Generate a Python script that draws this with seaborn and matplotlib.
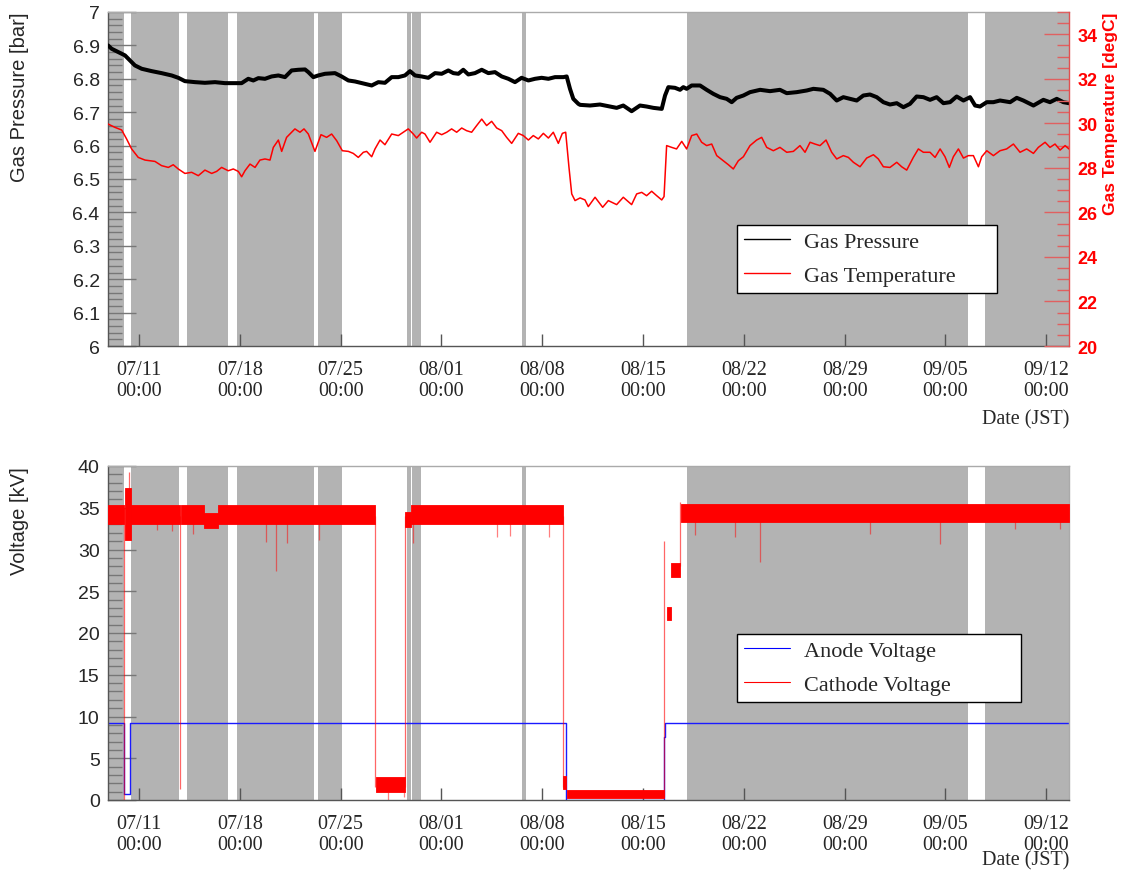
import numpy as np
import pandas as pd
import matplotlib
matplotlib.use("Agg")
import matplotlib.pyplot as plt
import matplotlib.ticker as mticker
from matplotlib.lines import Line2D
import seaborn as sns

# ------------------------------------------------------------------ data
ORIGIN = "2023-07-11 00:00"          # day 0 for all day offsets below
x_range_day = [-2.15, 64.58]
tick_dates = ["2023-07-11", "2023-07-18", "2023-07-25", "2023-08-01", "2023-08-08",
              "2023-08-15", "2023-08-22", "2023-08-29", "2023-09-05", "2023-09-12"]

# grey shaded periods (days since origin)
shade_start = [-2.15, -0.56, 3.33, 6.81, 12.43, 18.58, 18.96, 26.60, 38.05, 58.75]
shade_end = [-1.07, 2.78, 6.18, 12.16, 14.09, 18.89, 19.58, 26.88, 57.58, 64.58]

# gas pressure [bar]
pressure_day = [-2.15, -1.90, -1.44, -0.97, -0.63, -0.28, 0.19, 0.88, 1.57, 2.27,
                2.73, 3.19, 3.89, 4.58, 5.28, 5.97, 6.67, 7.13, 7.59, 7.94,
                8.29, 8.75, 9.21, 9.68, 10.14, 10.60, 11.06, 11.53, 11.76, 12.11,
                12.45, 12.92, 13.61, 14.07, 14.54, 15.00, 15.69, 16.16, 16.62, 17.08,
                17.55, 18.01, 18.47, 18.82, 19.17, 19.63, 20.09, 20.56, 21.02, 21.48,
                21.83, 22.18, 22.52, 22.87, 23.33, 23.80, 24.26, 24.72, 25.19, 25.65,
                26.11, 26.57, 27.04, 27.50, 27.96, 28.43, 28.89, 29.47, 29.70, 29.93,
                30.16, 30.51,
                30.63, 31.32, 32.01, 32.71, 33.17, 33.63, 34.21, 34.79, 35.25, 35.72,
                36.30, 36.53, 36.76, 37.22, 37.57, 37.80, 38.03, 38.38, 38.96, 39.42,
                39.88, 40.35, 40.81, 41.16, 41.50, 41.97, 42.43, 43.13, 43.82, 44.51,
                44.98, 45.67, 46.37, 46.83, 47.52, 47.99, 48.45, 48.91, 49.38, 49.84,
                50.30, 50.76, 51.23, 51.69, 52.15, 52.62, 53.08, 53.54, 54.00, 54.47,
                54.93, 55.39, 55.86, 56.32, 56.78, 57.25, 57.71, 58.06, 58.40, 58.87,
                59.33, 59.79, 60.49, 60.95, 61.41, 62.11, 62.80, 63.26, 63.73, 64.19,
                64.58]
pressure_bar = [6.900, 6.890, 6.880, 6.870, 6.855, 6.840, 6.830, 6.823, 6.817, 6.810,
                6.803, 6.793, 6.790, 6.788, 6.790, 6.787, 6.787, 6.787, 6.800, 6.795,
                6.802, 6.800, 6.807, 6.810, 6.805, 6.825, 6.827, 6.828, 6.820, 6.805,
                6.810, 6.815, 6.817, 6.807, 6.795, 6.792, 6.785, 6.780, 6.790, 6.788,
                6.805, 6.805, 6.810, 6.823, 6.810, 6.807, 6.803, 6.817, 6.815, 6.825,
                6.817, 6.815, 6.827, 6.813, 6.817, 6.827, 6.817, 6.820, 6.807, 6.800,
                6.790, 6.803, 6.795, 6.800, 6.803, 6.800, 6.805, 6.805, 6.807, 6.770,
                6.740, 6.725,
                6.722, 6.720, 6.723, 6.717, 6.713, 6.720, 6.703, 6.720, 6.717, 6.713,
                6.710, 6.750, 6.775, 6.773, 6.767, 6.775, 6.770, 6.780, 6.780, 6.767,
                6.755, 6.745, 6.740, 6.730, 6.743, 6.750, 6.760, 6.767, 6.763, 6.767,
                6.757, 6.760, 6.765, 6.770, 6.767, 6.755, 6.735, 6.745, 6.740, 6.735,
                6.750, 6.753, 6.745, 6.730, 6.723, 6.727, 6.715, 6.725, 6.747, 6.745,
                6.737, 6.745, 6.727, 6.730, 6.747, 6.735, 6.745, 6.720, 6.717, 6.730,
                6.730, 6.735, 6.730, 6.743, 6.735, 6.720, 6.737, 6.730, 6.740, 6.730,
                6.727]

# gas temperature [degC]
temp_day = [-2.15, -1.67, -1.20, -0.86, -0.51, -0.05, 0.42, 1.11, 1.57, 2.04,
            2.38, 2.73, 3.19, 3.66, 4.12, 4.58, 5.05, 5.39, 5.74, 6.20,
            6.55, 6.90, 7.13, 7.36, 7.71, 8.06, 8.40, 8.75, 9.10, 9.33,
            9.68, 9.91, 10.25, 10.60, 10.83, 11.18, 11.46, 11.76, 12.22, 12.64,
            13.03, 13.38, 13.73, 14.12, 14.54, 14.88, 15.23, 15.58, 15.81, 16.16,
            16.39, 16.74, 17.08, 17.55, 18.01, 18.36, 18.70, 19.05, 19.28, 19.63,
            19.86, 20.21, 20.67, 21.02, 21.37, 21.71, 22.06, 22.41, 22.75, 23.10,
            23.45, 23.80, 24.14, 24.49, 24.84, 25.19, 25.53, 25.88, 26.34, 26.69,
            27.04, 27.38, 27.73, 28.08, 28.43, 28.77, 29.12, 29.40, 29.63, 29.86,
            30.05, 30.28,
            30.63, 30.97, 31.20, 31.67, 32.20, 32.59, 33.17, 33.63, 34.21, 34.56,
            34.91, 35.25, 35.60, 35.95, 36.30, 36.46, 36.64, 36.99, 37.33, 37.69,
            38.03, 38.38, 38.73, 39.07, 39.42, 39.77, 40.12, 40.58, 40.93, 41.27,
            41.62, 41.97, 42.43, 42.89, 43.24, 43.59, 44.05, 44.51, 44.98, 45.44,
            45.90, 46.25, 46.60, 46.94, 47.29, 47.71, 48.10, 48.45, 48.91, 49.26,
            49.61, 50.07, 50.53, 51.00, 51.34, 51.69, 52.15, 52.62, 52.96, 53.31,
            53.77, 54.12, 54.47, 54.93, 55.28, 55.63, 55.97, 56.27, 56.55, 56.90,
            57.25, 57.59, 57.94, 58.29, 58.52, 58.87, 59.33, 59.79, 60.25, 60.72,
            61.18, 61.64, 62.11, 62.45, 62.92, 63.26, 63.61, 63.96, 64.31, 64.58]
temp_degc = [29.97, 29.82, 29.70, 29.30, 28.85, 28.47, 28.35, 28.29, 28.10, 28.02,
             28.14, 27.95, 27.75, 27.80, 27.65, 27.90, 27.75, 27.84, 28.02, 27.87,
             27.95, 27.84, 27.60, 27.87, 28.17, 28.02, 28.35, 28.40, 28.35, 28.92,
             29.25, 28.74, 29.37, 29.60, 29.75, 29.60, 29.75, 29.52, 28.74, 29.49,
             29.37, 29.52, 29.22, 28.77, 28.74, 28.65, 28.47, 28.70, 28.74, 28.50,
             28.85, 29.25, 29.04, 29.52, 29.45, 29.60, 29.75, 29.52, 29.34, 29.60,
             29.52, 29.15, 29.60, 29.49, 29.60, 29.75, 29.60, 29.79, 29.67, 29.60,
             29.90, 30.19, 29.90, 30.09, 29.79, 29.67, 29.37, 29.10, 29.55, 29.45,
             29.25, 29.45, 29.30, 29.55, 29.34, 29.60, 29.10, 29.55, 29.60, 28.02,
             26.83, 26.53,
             26.65, 26.56, 26.26, 26.68, 26.23, 26.53, 26.35, 26.68, 26.35, 26.83,
             26.90, 26.75, 26.95, 26.75, 26.56, 26.71, 29.00, 28.92, 28.85, 29.19,
             28.85, 29.45, 29.52, 29.15, 29.00, 29.07, 28.55, 28.32, 28.14, 27.95,
             28.32, 28.50, 29.00, 29.25, 29.37, 28.92, 28.77, 28.92, 28.70, 28.74,
             29.00, 28.70, 29.15, 29.07, 29.00, 29.25, 28.70, 28.40, 28.55, 28.47,
             28.25, 28.05, 28.44, 28.59, 28.40, 28.05, 28.02, 28.25, 28.05, 27.90,
             28.47, 28.85, 28.70, 28.70, 28.47, 28.85, 28.50, 28.02, 28.50, 28.85,
             28.44, 28.55, 28.55, 28.05, 28.50, 28.77, 28.55, 28.77, 28.85, 29.07,
             28.70, 28.85, 28.65, 28.92, 29.15, 28.92, 29.07, 28.80, 29.00, 28.85]

# anode voltage [kV]
anode_day = [-2.15, -1.04, -1.04, -0.60, -0.60, 29.65, 29.65, 36.49, 36.49, 36.55, 36.55, 64.58]
anode_kv = [9.2, 9.2, 0.7, 0.7, 9.2, 9.2, 0.0, 0.0, 7.5, 7.5, 9.2, 9.2]

# cathode voltage [kV]: noisy plateaus given as (start, end, low, high)
cathode_start = [-2.15, -0.97, -0.56, 2.95, 4.55, 5.49, 16.43, 18.50, 18.89, 29.44, 29.72, 36.67, 36.94, 37.64]
cathode_end = [-1.04, -0.56, 2.85, 4.55, 5.49, 16.39, 18.50, 18.89, 29.44, 29.65, 36.46, 36.94, 37.57, 64.58]
cathode_low = [33.1, 31.1, 33.1, 33.1, 32.6, 33.1, 1.0, 32.7, 33.1, 1.3, 0.2, 21.6, 26.7, 33.3]
cathode_high = [35.3, 37.4, 35.3, 35.3, 34.4, 35.3, 2.8, 34.5, 35.3, 2.9, 1.2, 23.1, 28.4, 35.4]
# cathode transitions / excursions (day, from, to)
cathode_jump_day = [-1.04, -0.70, 2.85, 16.39, 18.50, 29.44, 36.49, 37.60]
cathode_jump_low = [0.0, 35.0, 1.3, 1.5, 1.5, 1.5, 0.3, 28.0]
cathode_jump_high = [35.0, 39.3, 34.0, 34.0, 34.0, 34.0, 31.0, 35.7]
# short downward glitches (day, min, plateau)
glitch_day = [1.23, 2.29, 3.75, 8.85, 9.49, 10.26, 12.47, 17.26, 18.37, 19.03,
              24.86, 25.73, 28.47, 38.61, 41.39, 43.13, 50.76, 55.63, 60.83, 63.96]
glitch_min = [32.3, 32.2, 31.8, 30.9, 27.4, 30.8, 31.1, 0.0, 0.3, 30.8,
              31.5, 31.6, 31.5, 31.7, 31.5, 28.5, 31.8, 30.7, 32.5, 32.5]
glitch_top = [33.2, 33.2, 33.2, 33.2, 33.2, 33.2, 33.2, 1.0, 1.0, 33.2,
              33.2, 33.2, 33.2, 33.4, 33.4, 33.4, 33.4, 33.4, 33.4, 33.4]

# ------------------------------------------------------------------ helpers
origin = pd.Timestamp(ORIGIN)


def to_time(days):
    return origin + pd.to_timedelta(np.asarray(days, dtype=float), unit="D")


sns.set_style("white")
SANS = ["Liberation Sans", "DejaVu Sans"]
SERIF = ["Liberation Serif", "DejaVu Serif"]
plt.rcParams["font.family"] = SANS
plt.rcParams["axes.linewidth"] = 1.0

W, H = 1123, 878
fig = plt.figure(figsize=(W / 100, H / 100), dpi=100)
ax_p = fig.add_axes([108 / W, 1 - 347 / H, 961 / W, 334 / H])
ax_v = fig.add_axes([108 / W, 1 - 801 / H, 961 / W, 334 / H])

SHADE = "#b3b3b3"
AX_GREY = "#555555"
TICK_FS = 14
SERIF_FS = 14.5

tick_times = pd.to_datetime(tick_dates)
tick_text = [t.strftime("%m/%d\n%H:%M") for t in tick_times]


def style_time_axis(ax):
    ax.set_xlim(to_time(x_range_day[0]), to_time(x_range_day[1]))
    ax.set_xticks(tick_times, tick_text, fontfamily=SERIF, fontsize=SERIF_FS, linespacing=1.12)
    ax.tick_params(axis="x", which="major", direction="in", length=9, width=1,
                   color=AX_GREY, pad=10, top=False, bottom=True)
    ax.tick_params(axis="x", which="minor", bottom=False, top=False)
    ax.set_xlabel("")
    for s, e in zip(shade_start, shade_end):
        ax.axvspan(to_time(s), to_time(e), color=SHADE, lw=0, zorder=0)
    ax.spines["left"].set_color(AX_GREY)
    ax.spines["bottom"].set_color(AX_GREY)
    ax.spines["top"].set_color("#aaaaaa")
    ax.spines["right"].set_color("#aaaaaa")


def fmt(v, _):
    return f"{round(v, 3):g}"


# ------------------------------------------------------------------ top panel
sns.lineplot(x=to_time(pressure_day), y=pressure_bar, ax=ax_p, color="black",
             lw=2.9, estimator=None, sort=False, legend=False, zorder=3)
ax_t = ax_p.twinx()
sns.lineplot(x=to_time(temp_day), y=temp_degc, ax=ax_t, color="red",
             lw=1.1, estimator=None, sort=False, legend=False, zorder=3)

style_time_axis(ax_p)
ax_p.set_ylim(6, 7)
ax_p.yaxis.set_major_locator(mticker.MultipleLocator(0.1))
ax_p.yaxis.set_minor_locator(mticker.MultipleLocator(0.02))
ax_p.yaxis.set_major_formatter(mticker.FuncFormatter(fmt))
ax_p.tick_params(axis="y", which="major", direction="in", length=20, width=1,
                 color="#777777", labelsize=TICK_FS, pad=6, left=True, right=False)
ax_p.tick_params(axis="y", which="minor", direction="in", length=10, width=1,
                 color="#777777", left=True, right=False)
ax_p.set_ylabel("")
ax_p.spines["right"].set_visible(False)

ax_t.set_ylim(20, 35)
ax_t.yaxis.set_major_locator(mticker.MultipleLocator(2))
ax_t.yaxis.set_minor_locator(mticker.MultipleLocator(0.5))
ax_t.yaxis.set_major_formatter(mticker.FuncFormatter(fmt))
ax_t.tick_params(axis="y", which="major", direction="in", length=18, width=1,
                 color="#e06060", labelcolor="red", labelsize=13, pad=6)
ax_t.tick_params(axis="y", which="minor", direction="in", length=9, width=1,
                 color="#e06060")
for lbl in ax_t.get_yticklabels():
    lbl.set_fontweight("bold")
ax_t.set_ylabel("")
for side in ["left", "top", "bottom"]:
    ax_t.spines[side].set_visible(False)
ax_t.spines["right"].set_color("#e05050")

LEG_KW = dict(loc="upper left", mode="expand", borderaxespad=0, fancybox=False,
              framealpha=1, edgecolor="black", prop={"family": SERIF, "size": 16},
              handlelength=2.1, handletextpad=0.6, labelspacing=0.6, borderpad=0.3)

leg1 = ax_t.legend(handles=[Line2D([], [], color="black", lw=1),
                            Line2D([], [], color="red", lw=1)],
                   labels=["Gas Pressure", "Gas Temperature"],
                   bbox_to_anchor=(0.6545, 0.0, 0.2705, 0.3623), **LEG_KW)
leg1.get_frame().set_linewidth(1.0)
leg1.set_zorder(10)

# ------------------------------------------------------------------ bottom panel
sns.lineplot(x=to_time(anode_day), y=anode_kv, ax=ax_v, color="#1a1aff",
             lw=1.0, estimator=None, sort=False, legend=False, zorder=2)
for s, e, lo, hi in zip(cathode_start, cathode_end, cathode_low, cathode_high):
    ax_v.fill_between(to_time([s, e]), lo, hi, color="red", lw=0.6, edgecolor="red", zorder=3)
ax_v.vlines(to_time(cathode_jump_day), cathode_jump_low, cathode_jump_high,
            color="red", alpha=0.6, lw=0.9, zorder=3)
ax_v.vlines(to_time(glitch_day), glitch_min, glitch_top,
            color="red", alpha=0.5, lw=0.9, zorder=3)

style_time_axis(ax_v)
ax_v.set_ylim(0, 40)
ax_v.yaxis.set_major_locator(mticker.MultipleLocator(5))
ax_v.yaxis.set_minor_locator(mticker.MultipleLocator(1))
ax_v.yaxis.set_major_formatter(mticker.FuncFormatter(fmt))
ax_v.tick_params(axis="y", which="major", direction="in", length=20, width=1,
                 color="#777777", labelsize=TICK_FS, pad=6, left=True, right=False)
ax_v.tick_params(axis="y", which="minor", direction="in", length=10, width=1,
                 color="#777777", left=True, right=False)
ax_v.set_ylabel("")

leg2 = ax_v.legend(handles=[Line2D([], [], color="blue", lw=0.8),
                            Line2D([], [], color="red", lw=0.8)],
                   labels=["Anode Voltage", "Cathode Voltage"],
                   bbox_to_anchor=(0.6545, 0.0, 0.2955, 0.497), **LEG_KW)
leg2.get_frame().set_linewidth(1.0)
leg2.set_zorder(10)

# ------------------------------------------------------------------ titles
fig.text(20 / W, 1 - 13 / H, "Gas Pressure [bar]", rotation=90, va="top", ha="center",
         fontsize=14.5)
fig.text(1110 / W, 1 - 13 / H, "Gas Temperature [degC]", rotation=90, va="top",
         ha="center", fontsize=12.5, color="red", fontweight="bold")
fig.text(20 / W, 1 - 467 / H, "Voltage [kV]", rotation=90, va="top", ha="center",
         fontsize=14.5)
fig.text(1069 / W, 1 - 420 / H, "Date (JST)", ha="right", va="center",
         fontfamily=SERIF, fontsize=SERIF_FS)
fig.text(1069 / W, 1 - 861 / H, "Date (JST)", ha="right", va="center",
         fontfamily=SERIF, fontsize=SERIF_FS)

fig.savefig("out.png", dpi=100, facecolor="white")
